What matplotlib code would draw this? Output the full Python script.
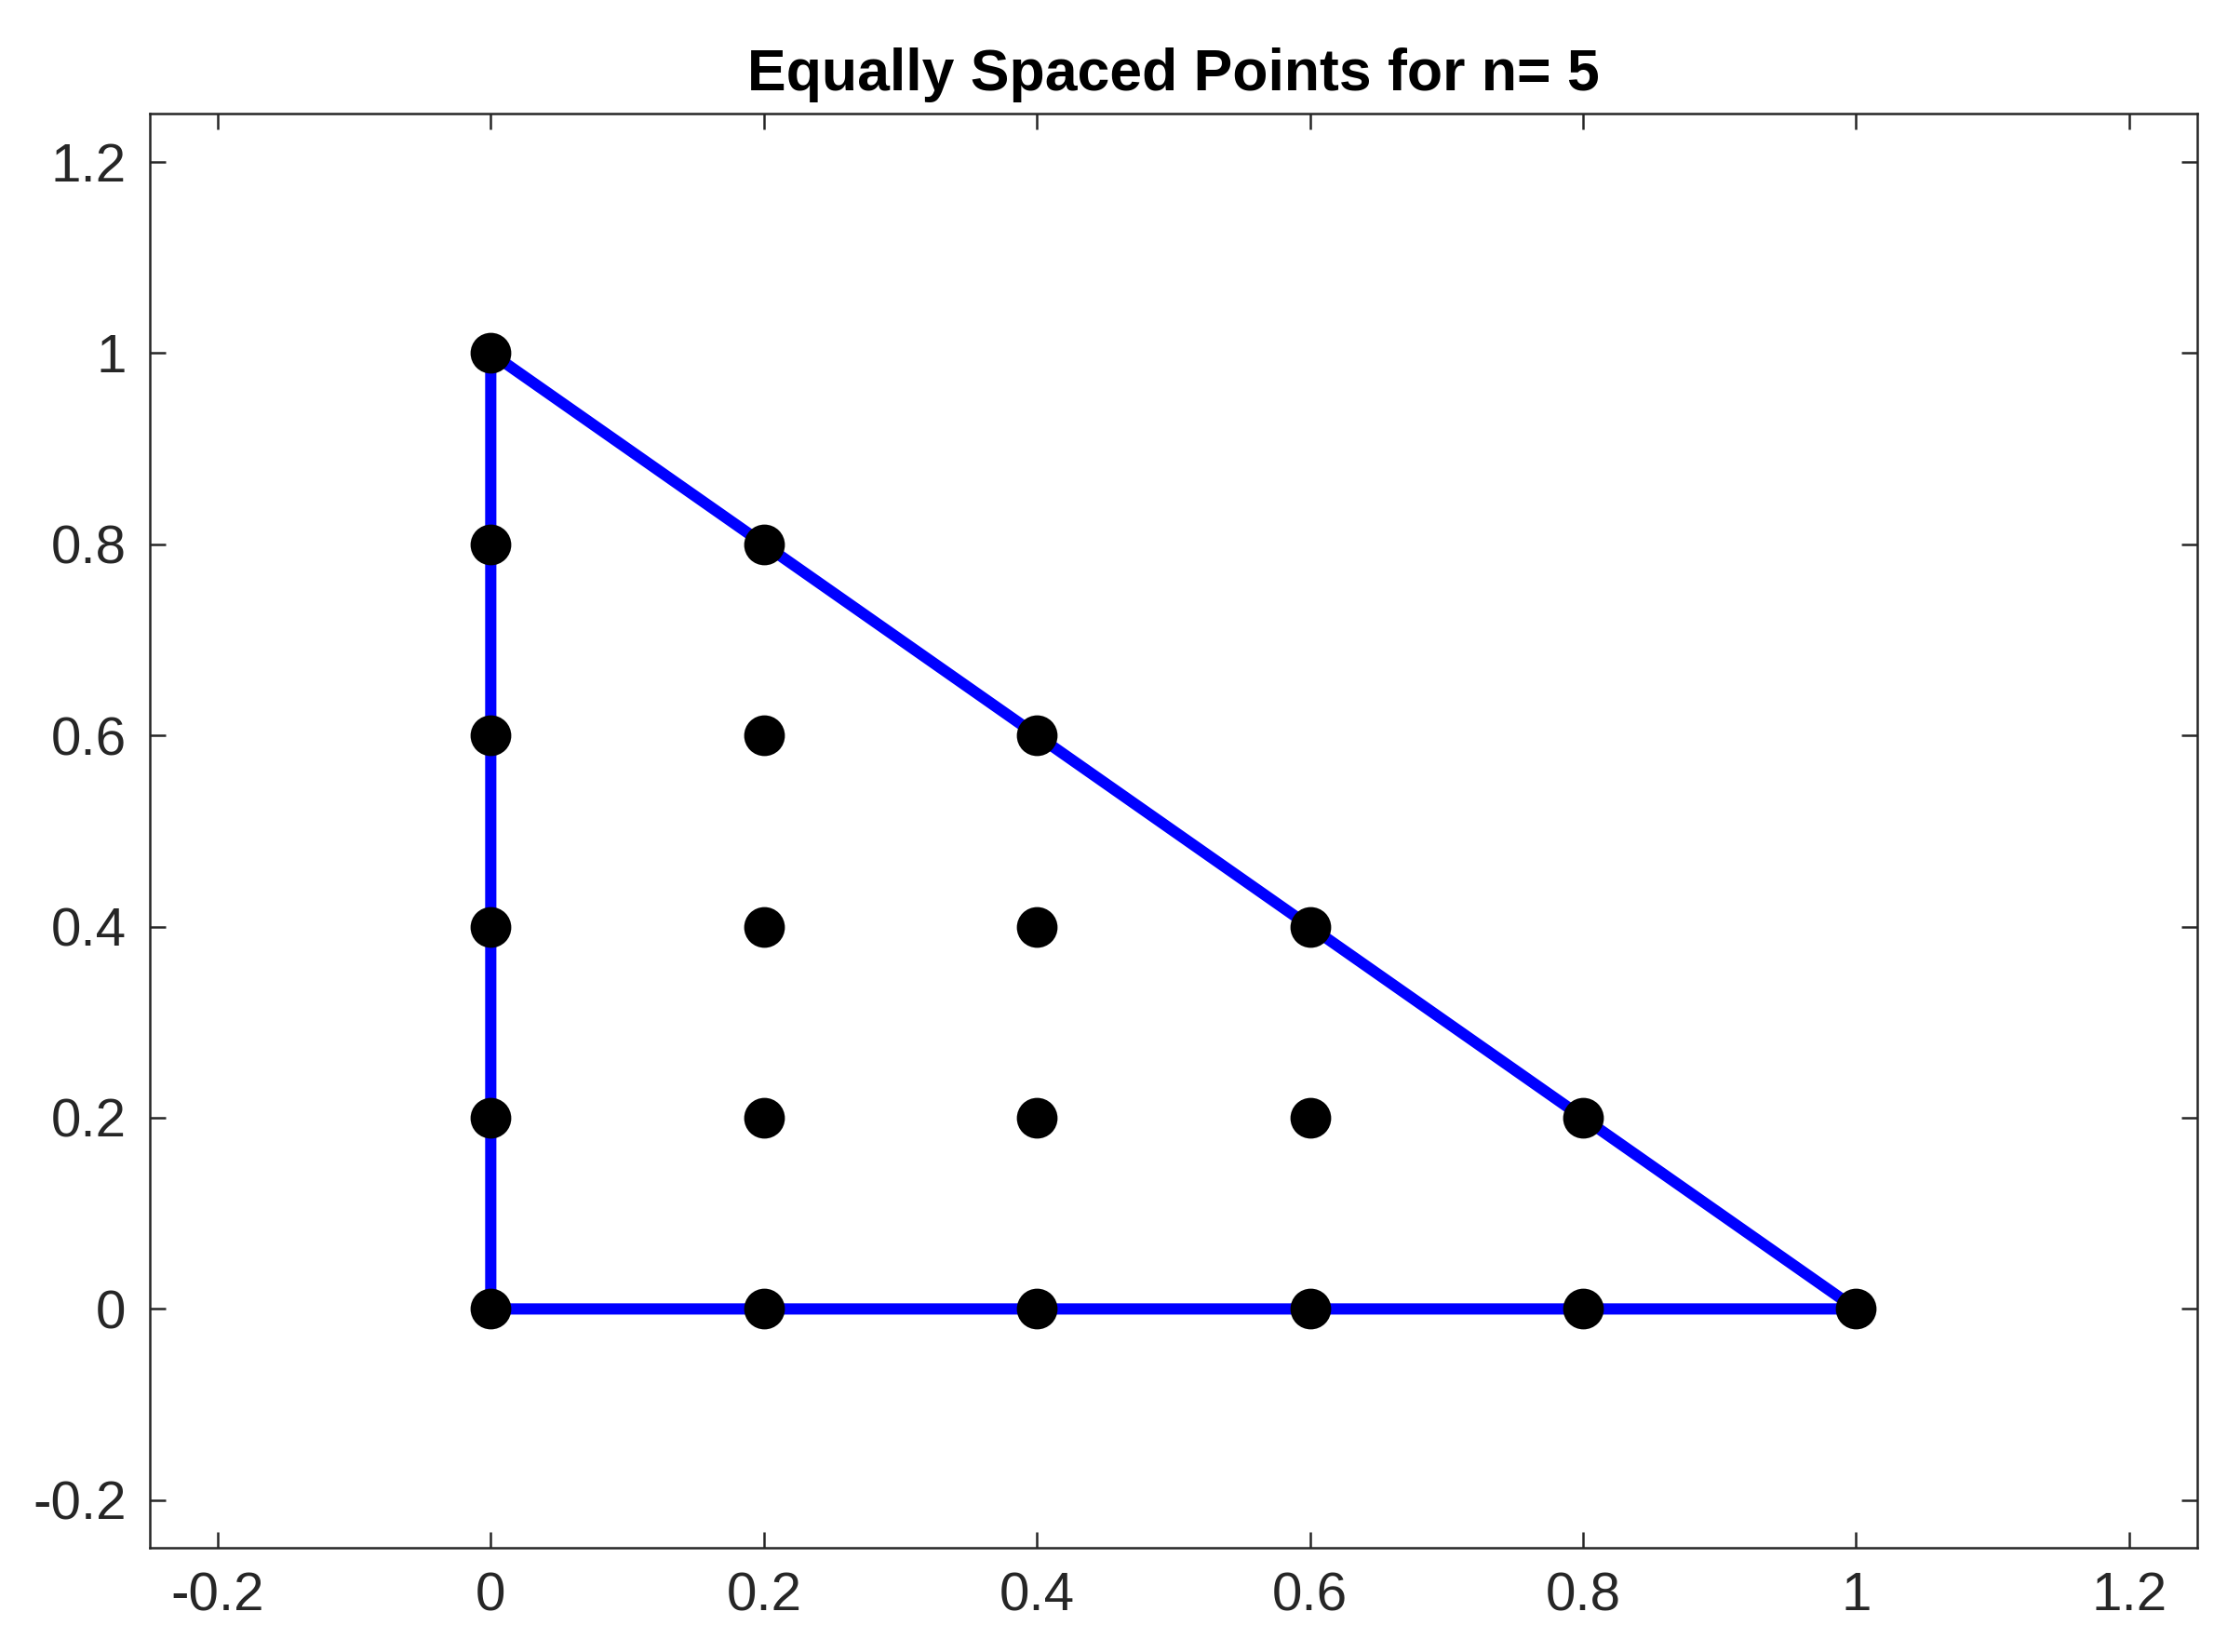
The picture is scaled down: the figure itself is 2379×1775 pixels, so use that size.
import matplotlib
matplotlib.use('Agg')
import matplotlib.pyplot as plt

plt.rcParams['font.family'] = ['Liberation Sans', 'DejaVu Sans']

n = 5
# triangle outline
tri_x = [0, 1, 0, 0]
tri_y = [0, 0, 1, 0]
# equally spaced points
pts_x = [0, 0.2, 0.4, 0.6, 0.8, 1.0,
         0, 0.2, 0.4, 0.6, 0.8,
         0, 0.2, 0.4, 0.6,
         0, 0.2, 0.4,
         0, 0.2,
         0]
pts_y = [0, 0, 0, 0, 0, 0,
         0.2, 0.2, 0.2, 0.2, 0.2,
         0.4, 0.4, 0.4, 0.4,
         0.6, 0.6, 0.6,
         0.8, 0.8,
         1.0]
ticks = [-0.2, 0, 0.2, 0.4, 0.6, 0.8, 1, 1.2]
tick_labels = ['-0.2', '0', '0.2', '0.4', '0.6', '0.8', '1', '1.2']

fig = plt.figure(figsize=(2379 / 300, 1775 / 300), dpi=300)
ax = fig.add_axes([0.0675, 0.063, 0.925, 0.868])
ax.plot(tri_x, tri_y, color='#0000ff', lw=2.9)
ax.plot(pts_x, pts_y, 'o', color='black', ms=9.5)

ax.set_xlim(-0.25, 1.25)
ax.set_ylim(-0.25, 1.25)
ax.set_xticks(ticks, tick_labels)
ax.set_yticks(ticks, tick_labels)
ax.tick_params(direction='in', top=True, right=True, labelsize=14, length=4,
               width=0.6, colors='#262626', labelcolor='#262626', pad=6)
for s in ax.spines.values():
    s.set_linewidth(0.6)
    s.set_color('#262626')
ax.set_title(f'Equally Spaced Points for n= {n}', fontsize=15, fontweight='bold', pad=6)

fig.savefig('out.png', dpi=300)
